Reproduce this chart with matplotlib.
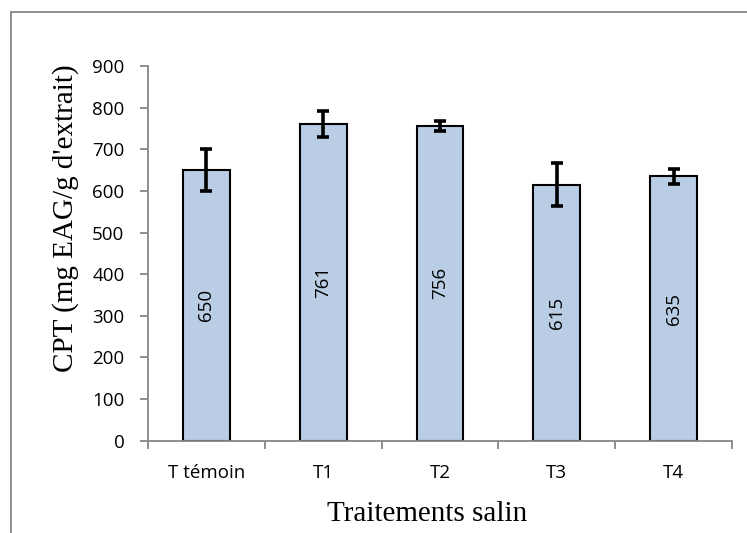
import matplotlib
matplotlib.use("Agg")
import matplotlib.pyplot as plt
from matplotlib.lines import Line2D

categories = ["T témoin", "T1", "T2", "T3", "T4"]
values = [650, 761, 756, 615, 635]
errors = [50, 31, 12, 52, 18]
y_ticks = [0, 100, 200, 300, 400, 500, 600, 700, 800, 900]

W, H = 747, 533
fig = plt.figure(figsize=(W / 100, H / 100), dpi=100)
fig.patch.set_facecolor("white")

axis_grey = "#868686"
bar_fill = "#B9CDE5"
tick_font = "Open Sans"
title_font = "Liberation Serif"
tick_size = 13.5

# chart-area frame (left and top edges)
fig.add_artist(Line2D([11 / W, 11 / W], [0, 1 - 12 / H], transform=fig.transFigure,
                      color=axis_grey, lw=1.3))
fig.add_artist(Line2D([11 / W, 1.0], [1 - 12 / H, 1 - 12 / H], transform=fig.transFigure,
                      color=axis_grey, lw=1.3))

left, right = 148 / W, 732 / W
bottom, top = 1 - 440.7 / H, 1 - 66 / H
ax = fig.add_axes([left, bottom, right - left, top - bottom])

x = list(range(len(categories)))
ax.bar(x, values, width=0.4, color=bar_fill, edgecolor="black", linewidth=1.5, zorder=2)
ax.errorbar(x, values, yerr=errors, fmt="none", ecolor="black", elinewidth=2.6,
            capsize=4.5, capthick=2.6, zorder=3)

for xi, v in zip(x, values):
    ax.text(xi, v / 2, f"{v}", rotation=90, ha="center", va="center",
            fontsize=tick_size, family=tick_font, color="black", zorder=4)

ax.set_xlim(-0.5, len(categories) - 0.5)
ax.set_ylim(0, 900)
ax.set_yticks(y_ticks)
ax.set_yticklabels([str(t) for t in y_ticks], family=tick_font, fontsize=tick_size)

# category labels centred, tick marks on the category boundaries
ax.set_xticks(x)
ax.set_xticklabels(categories, family=tick_font, fontsize=tick_size)
ax.tick_params(axis="x", which="major", length=0, pad=17)
ax.set_xticks([i - 0.5 for i in range(len(categories) + 1)], minor=True)
ax.tick_params(axis="x", which="minor", length=6, width=1.3, color=axis_grey, direction="out")
ax.tick_params(axis="y", length=6, width=1.3, color=axis_grey, direction="out", pad=11)

for side in ("top", "right"):
    ax.spines[side].set_visible(False)
for side in ("left", "bottom"):
    ax.spines[side].set_color(axis_grey)
    ax.spines[side].set_linewidth(1.3)

fig.text(66 / W, 1 - 218 / H, "CPT (mg EAG/g d'extrait)", family=title_font,
         fontsize=21, rotation=90, ha="center", va="center")
fig.text(427 / W, 1 - 514 / H, "Traitements salin", family=title_font, fontsize=21,
         ha="center", va="center")

fig.savefig("out.png", dpi=100, facecolor="white")
